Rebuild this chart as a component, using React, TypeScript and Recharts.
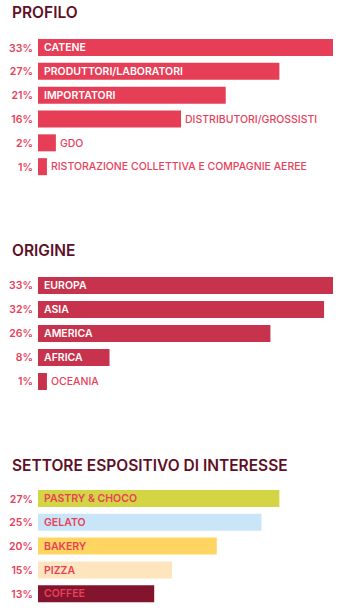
import { Bar, BarChart, Cell, LabelList, XAxis, YAxis } from "recharts";

const PROFILO_NAMES = [
  "CATENE",
  "PRODUTTORI/LABORATORI",
  "IMPORTATORI",
  "DISTRIBUTORI/GROSSISTI",
  "GDO",
  "RISTORAZIONE COLLETTIVA E COMPAGNIE AEREE",
];
const PROFILO_VALUES = [33, 27, 21, 16, 2, 1];

const ORIGINE_NAMES = ["EUROPA", "ASIA", "AMERICA", "AFRICA", "OCEANIA"];
const ORIGINE_VALUES = [33, 32, 26, 8, 1];

const SETTORE_NAMES = ["PASTRY & CHOCO", "GELATO", "BAKERY", "PIZZA", "COFFEE"];
const SETTORE_VALUES = [27, 25, 20, 15, 13];

const FONT = "Inter, 'Open Sans', sans-serif";
const PINK = "#e8405a";
const TITLE = "#5e1026";
const SETTORE_COLORS = ["#d4d545", "#c8e6f8", "#ffd562", "#ffe5bd", "#82152d"];

type Row = { name: string; value: number };

const toRows = (names: string[], values: number[]): Row[] =>
  names.map((name, i) => ({ name, value: values[i] }));

// label inside the bar when it fits, otherwise just after its end
const nameLabel = (insideFill: string, alwaysInside = false) => (props: any) => {
  const { x, y, width, height, value } = props;
  const textW = String(value).length * 6.8 + 12;
  const inside = alwaysInside || width >= textW;
  return (
    <text
      x={inside ? x + 6 : x + width + 4}
      y={y + height / 2}
      dy="0.36em"
      fill={inside ? insideFill : PINK}
      fontSize={10.5}
      fontWeight={inside ? 600 : 500}
      fontFamily={FONT}
    >
      {value}
    </text>
  );
};

function SectionChart({
  rows,
  height,
  color,
  colors,
  insideFill,
  alwaysInside,
}: {
  rows: Row[];
  height: number;
  color?: string;
  colors?: string[];
  insideFill: string;
  alwaysInside?: boolean;
}) {
  return (
    <BarChart
      width={359}
      height={height}
      data={rows}
      layout="vertical"
      margin={{ top: 0, right: 26, left: 0, bottom: 0 }}
      barSize={17}
    >
      <XAxis type="number" domain={[0, 33]} hide />
      <YAxis
        type="category"
        dataKey="name"
        width={38}
        axisLine={false}
        tickLine={false}
        tickSize={0}
        tickMargin={5}
        tickFormatter={(_v, i) => `${rows[i].value}%`}
        tick={{ fontSize: 10.5, fill: PINK, fontWeight: 600, fontFamily: FONT }}
      />
      <Bar dataKey="value" fill={color} isAnimationActive={false}>
        {colors && rows.map((r, i) => <Cell key={r.name} fill={colors[i]} />)}
        <LabelList dataKey="name" content={nameLabel(insideFill, alwaysInside)} />
      </Bar>
    </BarChart>
  );
}

const titleStyle = (top: number): React.CSSProperties => ({
  position: "absolute",
  left: 12,
  top,
  fontFamily: FONT,
  fontSize: 15.5,
  fontWeight: 600,
  color: TITLE,
  lineHeight: "20px",
  whiteSpace: "nowrap",
});

export default function App() {
  return (
    <div
      style={{
        position: "absolute",
        left: 0,
        top: 0,
        width: 359,
        height: 614,
        background: "#fff",
      }}
    >
      <div style={titleStyle(3)}>PROFILO</div>
      <div style={{ position: "absolute", left: 0, top: 35.5 }}>
        <SectionChart
          rows={toRows(PROFILO_NAMES, PROFILO_VALUES)}
          height={143}
          color="#e63e57"
          insideFill="#fff"
        />
      </div>

      <div style={titleStyle(241)}>ORIGINE</div>
      <div style={{ position: "absolute", left: 0, top: 272.5 }}>
        <SectionChart
          rows={toRows(ORIGINE_NAMES, ORIGINE_VALUES)}
          height={120}
          color="#c7324c"
          insideFill="#fff"
        />
      </div>

      <div style={titleStyle(456)}>SETTORE ESPOSITIVO DI INTERESSE</div>
      <div style={{ position: "absolute", left: 0, top: 486.6 }}>
        <SectionChart
          rows={toRows(SETTORE_NAMES, SETTORE_VALUES)}
          height={119}
          colors={SETTORE_COLORS}
          insideFill={PINK}
          alwaysInside
        />
      </div>
    </div>
  );
}
